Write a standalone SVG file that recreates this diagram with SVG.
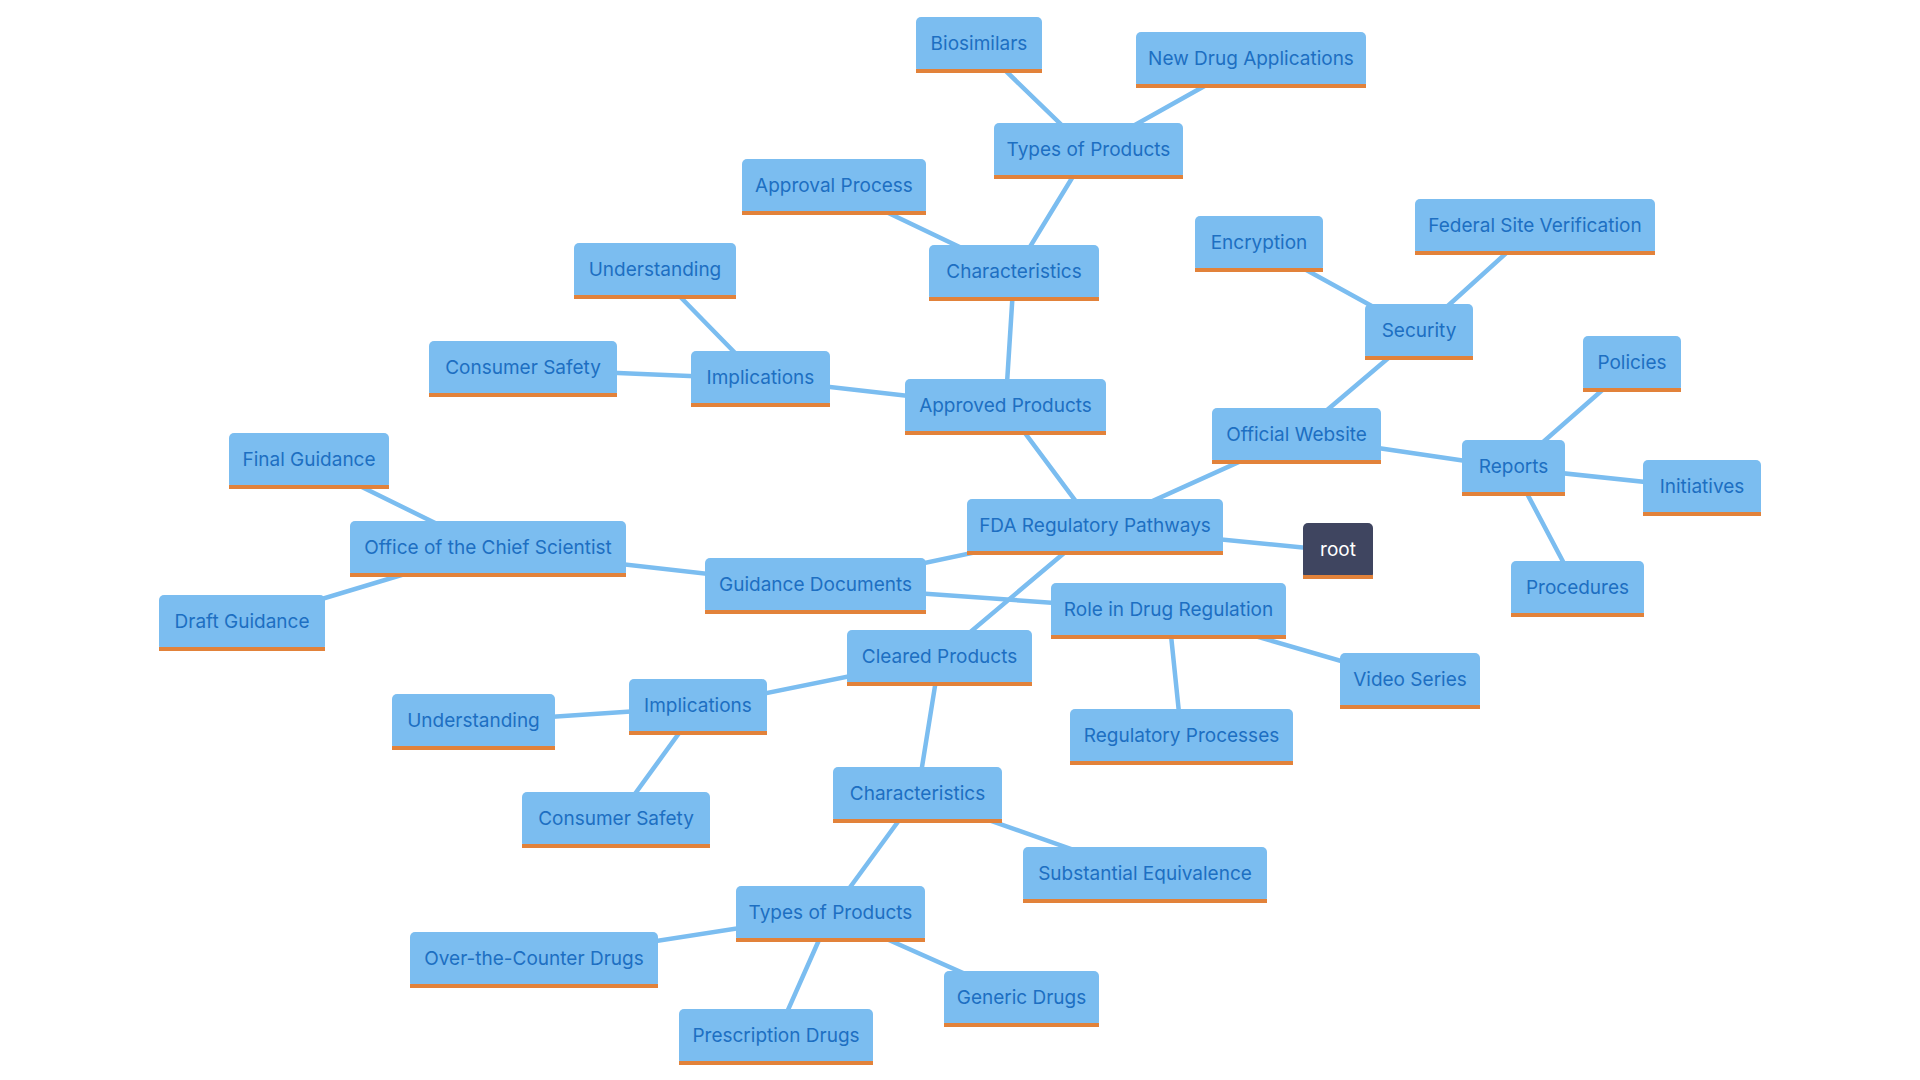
<svg xmlns="http://www.w3.org/2000/svg" width="1920" height="1080" viewBox="0 0 1920 1080">
<style>
.bg{fill:#ffffff}
.e line{stroke:#7bbdf0;stroke-width:4.5;stroke-linecap:round}
.n{fill:#7bbdf0}
.ln{fill:#e2823a}
.t{font-family:Inter,"Liberation Sans",sans-serif;font-size:19px;fill:#1d6fc2;text-anchor:middle}
.r{fill:#3f4560}
.rt{font-family:Inter,"Liberation Sans",sans-serif;font-size:19px;fill:#ffffff;text-anchor:middle}
</style>
<rect class="bg" x="0" y="0" width="1920" height="1080"/>
<g id="edges" class="e">
<line x1="1095" y1="527" x2="1338" y2="551"/>
<line x1="1095" y1="527" x2="1005.5" y2="407"/>
<line x1="1095" y1="527" x2="1296.5" y2="436"/>
<line x1="1095" y1="527" x2="815.5" y2="586"/>
<line x1="1095" y1="527" x2="939.5" y2="658"/>
<line x1="1005.5" y1="407" x2="1014" y2="273"/>
<line x1="1005.5" y1="407" x2="760.5" y2="379"/>
<line x1="1014" y1="273" x2="1088.5" y2="151"/>
<line x1="1014" y1="273" x2="834" y2="187"/>
<line x1="1088.5" y1="151" x2="979" y2="45"/>
<line x1="1088.5" y1="151" x2="1251" y2="60"/>
<line x1="760.5" y1="379" x2="655" y2="271"/>
<line x1="760.5" y1="379" x2="523" y2="369"/>
<line x1="1296.5" y1="436" x2="1419" y2="332"/>
<line x1="1296.5" y1="436" x2="1513.5" y2="468"/>
<line x1="1419" y1="332" x2="1259" y2="244"/>
<line x1="1419" y1="332" x2="1535" y2="227"/>
<line x1="1513.5" y1="468" x2="1632" y2="364"/>
<line x1="1513.5" y1="468" x2="1702" y2="488"/>
<line x1="1513.5" y1="468" x2="1577.5" y2="589"/>
<line x1="815.5" y1="586" x2="488" y2="549"/>
<line x1="815.5" y1="586" x2="1168.5" y2="611"/>
<line x1="488" y1="549" x2="309" y2="461"/>
<line x1="488" y1="549" x2="242" y2="623"/>
<line x1="1168.5" y1="611" x2="1410" y2="681"/>
<line x1="1168.5" y1="611" x2="1181.5" y2="737"/>
<line x1="939.5" y1="658" x2="698" y2="707"/>
<line x1="939.5" y1="658" x2="917.5" y2="795"/>
<line x1="698" y1="707" x2="473.5" y2="722"/>
<line x1="698" y1="707" x2="616" y2="820"/>
<line x1="917.5" y1="795" x2="1145" y2="875"/>
<line x1="917.5" y1="795" x2="830.5" y2="914"/>
<line x1="830.5" y1="914" x2="534" y2="960"/>
<line x1="830.5" y1="914" x2="1021.5" y2="999"/>
<line x1="830.5" y1="914" x2="776" y2="1037"/>
</g>
<g id="node-biosimilars"><rect class="n" x="916" y="17" width="126" height="56" rx="5"/><rect class="ln" x="916" y="69" width="126" height="4"/><text class="t" x="979" y="50">Biosimilars</text></g>
<g id="node-new-drug-applications"><rect class="n" x="1136" y="32" width="230" height="56" rx="5"/><rect class="ln" x="1136" y="84" width="230" height="4"/><text class="t" x="1251" y="65">New Drug Applications</text></g>
<g id="node-types-top"><rect class="n" x="994" y="123" width="189" height="56" rx="5"/><rect class="ln" x="994" y="175" width="189" height="4"/><text class="t" x="1088.5" y="156">Types of Products</text></g>
<g id="node-approval-process"><rect class="n" x="742" y="159" width="184" height="56" rx="5"/><rect class="ln" x="742" y="211" width="184" height="4"/><text class="t" x="834" y="192">Approval Process</text></g>
<g id="node-characteristics-top"><rect class="n" x="929" y="245" width="170" height="56" rx="5"/><rect class="ln" x="929" y="297" width="170" height="4"/><text class="t" x="1014" y="278">Characteristics</text></g>
<g id="node-understanding-top"><rect class="n" x="574" y="243" width="162" height="56" rx="5"/><rect class="ln" x="574" y="295" width="162" height="4"/><text class="t" x="655" y="276">Understanding</text></g>
<g id="node-consumer-safety-top"><rect class="n" x="429" y="341" width="188" height="56" rx="5"/><rect class="ln" x="429" y="393" width="188" height="4"/><text class="t" x="523" y="374">Consumer Safety</text></g>
<g id="node-implications-top"><rect class="n" x="691" y="351" width="139" height="56" rx="5"/><rect class="ln" x="691" y="403" width="139" height="4"/><text class="t" x="760.5" y="384">Implications</text></g>
<g id="node-approved-products"><rect class="n" x="905" y="379" width="201" height="56" rx="5"/><rect class="ln" x="905" y="431" width="201" height="4"/><text class="t" x="1005.5" y="412">Approved Products</text></g>
<g id="node-encryption"><rect class="n" x="1195" y="216" width="128" height="56" rx="5"/><rect class="ln" x="1195" y="268" width="128" height="4"/><text class="t" x="1259" y="249">Encryption</text></g>
<g id="node-federal-site-verification"><rect class="n" x="1415" y="199" width="240" height="56" rx="5"/><rect class="ln" x="1415" y="251" width="240" height="4"/><text class="t" x="1535" y="232">Federal Site Verification</text></g>
<g id="node-security"><rect class="n" x="1365" y="304" width="108" height="56" rx="5"/><rect class="ln" x="1365" y="356" width="108" height="4"/><text class="t" x="1419" y="337">Security</text></g>
<g id="node-official-website"><rect class="n" x="1212" y="408" width="169" height="56" rx="5"/><rect class="ln" x="1212" y="460" width="169" height="4"/><text class="t" x="1296.5" y="441">Official Website</text></g>
<g id="node-policies"><rect class="n" x="1583" y="336" width="98" height="56" rx="5"/><rect class="ln" x="1583" y="388" width="98" height="4"/><text class="t" x="1632" y="369">Policies</text></g>
<g id="node-reports"><rect class="n" x="1462" y="440" width="103" height="56" rx="5"/><rect class="ln" x="1462" y="492" width="103" height="4"/><text class="t" x="1513.5" y="473">Reports</text></g>
<g id="node-initiatives"><rect class="n" x="1643" y="460" width="118" height="56" rx="5"/><rect class="ln" x="1643" y="512" width="118" height="4"/><text class="t" x="1702" y="493">Initiatives</text></g>
<g id="node-procedures"><rect class="n" x="1511" y="561" width="133" height="56" rx="5"/><rect class="ln" x="1511" y="613" width="133" height="4"/><text class="t" x="1577.5" y="594">Procedures</text></g>
<g id="node-final-guidance"><rect class="n" x="229" y="433" width="160" height="56" rx="5"/><rect class="ln" x="229" y="485" width="160" height="4"/><text class="t" x="309" y="466">Final Guidance</text></g>
<g id="node-office-chief-scientist"><rect class="n" x="350" y="521" width="276" height="56" rx="5"/><rect class="ln" x="350" y="573" width="276" height="4"/><text class="t" x="488" y="554">Office of the Chief Scientist</text></g>
<g id="node-draft-guidance"><rect class="n" x="159" y="595" width="166" height="56" rx="5"/><rect class="ln" x="159" y="647" width="166" height="4"/><text class="t" x="242" y="628">Draft Guidance</text></g>
<g id="node-fda-regulatory-pathways"><rect class="n" x="967" y="499" width="256" height="56" rx="5"/><rect class="ln" x="967" y="551" width="256" height="4"/><text class="t" x="1095" y="532">FDA Regulatory Pathways</text></g>
<g id="node-root"><rect class="r" x="1303" y="523" width="70" height="56" rx="5"/><rect class="ln" x="1303" y="575" width="70" height="4"/><text class="rt" x="1338" y="556">root</text></g>
<g id="node-guidance-documents"><rect class="n" x="705" y="558" width="221" height="56" rx="5"/><rect class="ln" x="705" y="610" width="221" height="4"/><text class="t" x="815.5" y="591">Guidance Documents</text></g>
<g id="node-role-in-drug-regulation"><rect class="n" x="1051" y="583" width="235" height="56" rx="5"/><rect class="ln" x="1051" y="635" width="235" height="4"/><text class="t" x="1168.5" y="616">Role in Drug Regulation</text></g>
<g id="node-cleared-products"><rect class="n" x="847" y="630" width="185" height="56" rx="5"/><rect class="ln" x="847" y="682" width="185" height="4"/><text class="t" x="939.5" y="663">Cleared Products</text></g>
<g id="node-video-series"><rect class="n" x="1340" y="653" width="140" height="56" rx="5"/><rect class="ln" x="1340" y="705" width="140" height="4"/><text class="t" x="1410" y="686">Video Series</text></g>
<g id="node-regulatory-processes"><rect class="n" x="1070" y="709" width="223" height="56" rx="5"/><rect class="ln" x="1070" y="761" width="223" height="4"/><text class="t" x="1181.5" y="742">Regulatory Processes</text></g>
<g id="node-implications-bottom"><rect class="n" x="629" y="679" width="138" height="56" rx="5"/><rect class="ln" x="629" y="731" width="138" height="4"/><text class="t" x="698" y="712">Implications</text></g>
<g id="node-understanding-bottom"><rect class="n" x="392" y="694" width="163" height="56" rx="5"/><rect class="ln" x="392" y="746" width="163" height="4"/><text class="t" x="473.5" y="727">Understanding</text></g>
<g id="node-consumer-safety-bottom"><rect class="n" x="522" y="792" width="188" height="56" rx="5"/><rect class="ln" x="522" y="844" width="188" height="4"/><text class="t" x="616" y="825">Consumer Safety</text></g>
<g id="node-characteristics-bottom"><rect class="n" x="833" y="767" width="169" height="56" rx="5"/><rect class="ln" x="833" y="819" width="169" height="4"/><text class="t" x="917.5" y="800">Characteristics</text></g>
<g id="node-substantial-equivalence"><rect class="n" x="1023" y="847" width="244" height="56" rx="5"/><rect class="ln" x="1023" y="899" width="244" height="4"/><text class="t" x="1145" y="880">Substantial Equivalence</text></g>
<g id="node-types-bottom"><rect class="n" x="736" y="886" width="189" height="56" rx="5"/><rect class="ln" x="736" y="938" width="189" height="4"/><text class="t" x="830.5" y="919">Types of Products</text></g>
<g id="node-otc-drugs"><rect class="n" x="410" y="932" width="248" height="56" rx="5"/><rect class="ln" x="410" y="984" width="248" height="4"/><text class="t" x="534" y="965">Over-the-Counter Drugs</text></g>
<g id="node-generic-drugs"><rect class="n" x="944" y="971" width="155" height="56" rx="5"/><rect class="ln" x="944" y="1023" width="155" height="4"/><text class="t" x="1021.5" y="1004">Generic Drugs</text></g>
<g id="node-prescription-drugs"><rect class="n" x="679" y="1009" width="194" height="56" rx="5"/><rect class="ln" x="679" y="1061" width="194" height="4"/><text class="t" x="776" y="1042">Prescription Drugs</text></g>
</svg>
